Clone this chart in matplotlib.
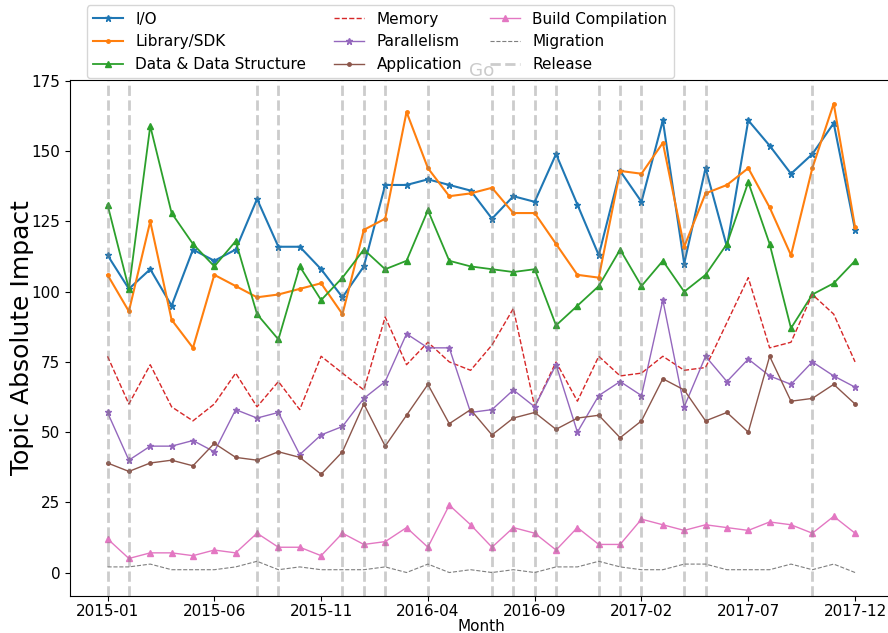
import matplotlib as mpl
import matplotlib.pyplot as plt
import pandas as pd

months = pd.period_range('2015-01', '2017-12', freq='M').strftime('%Y-%m').tolist()

io = [113, 101, 108, 95, 115, 111, 115, 133, 116, 116, 108, 98, 109, 138, 138, 140, 138, 136,
      126, 134, 132, 149, 131, 113, 143, 132, 161, 110, 144, 116, 161, 152, 142, 149, 160, 122]
library = [106, 93, 125, 90, 80, 106, 102, 98, 99, 101, 103, 92, 122, 126, 164, 144, 134, 135,
           137, 128, 128, 117, 106, 105, 143, 142, 153, 116, 135, 138, 144, 130, 113, 144, 167, 123]
data_struct = [131, 101, 159, 128, 117, 109, 118, 92, 83, 109, 97, 105, 115, 108, 111, 129, 111, 109,
               108, 107, 108, 88, 95, 102, 115, 102, 111, 100, 106, 117, 139, 117, 87, 99, 103, 111]
memory = [77, 60, 74, 59, 54, 60, 71, 59, 68, 58, 77, 71, 65, 91, 74, 82, 75, 72,
          81, 94, 59, 75, 61, 77, 70, 71, 77, 72, 73, 89, 105, 80, 82, 99, 92, 75]
parallelism = [57, 40, 45, 45, 47, 43, 58, 55, 57, 42, 49, 52, 62, 68, 85, 80, 80, 57,
               58, 65, 59, 74, 50, 63, 68, 63, 97, 59, 77, 68, 76, 70, 67, 75, 70, 66]
application = [39, 36, 39, 40, 38, 46, 41, 40, 43, 41, 35, 43, 60, 45, 56, 67, 53, 58,
               49, 55, 57, 51, 55, 56, 48, 54, 69, 65, 54, 57, 50, 77, 61, 62, 67, 60]
build = [12, 5, 7, 7, 6, 8, 7, 14, 9, 9, 6, 14, 10, 11, 16, 9, 24, 17,
         9, 16, 14, 8, 16, 10, 10, 19, 17, 15, 17, 16, 15, 18, 17, 14, 20, 14]
migration = [2, 2, 3, 1, 1, 1, 2, 4, 1, 2, 1, 1, 1, 2, 0, 3, 0, 1,
             0, 1, 0, 2, 2, 4, 2, 1, 1, 3, 3, 1, 1, 1, 3, 1, 3, 0]

releases = ['2015-01', '2015-02', '2015-08', '2015-09', '2015-12', '2016-01', '2016-02',
            '2016-04', '2016-07', '2016-08', '2016-09', '2016-10', '2016-12', '2017-01',
            '2017-02', '2017-04', '2017-05', '2017-10']

dpi = 100
fig = plt.figure(dpi=dpi, figsize=(888 / dpi, 633 / dpi))
mpl.rcParams.update({'font.size': 11})
ax = fig.add_axes([0.079, 0.0585, 0.926, 0.815])

xs = range(len(months))
ax.plot(xs, io, marker='*', markersize=5, linewidth=1.5, label='I/O')
ax.plot(xs, library, marker='.', markersize=5, linewidth=1.5, label='Library/SDK')
ax.plot(xs, data_struct, marker='^', markersize=5, linewidth=1.3, label='Data & Data Structure')
ax.plot(xs, memory, linestyle='--', linewidth=1.0, label='Memory')
ax.plot(xs, parallelism, marker='*', markersize=5, linewidth=1.0, label='Parallelism')
ax.plot(xs, application, marker='.', markersize=5, linewidth=1.0, label='Application')
ax.plot(xs, build, marker='^', markersize=5, linewidth=1.0, label='Build Compilation')
ax.plot(xs, migration, linestyle='--', linewidth=0.8, label='Migration')

for i, r in enumerate(releases):
    ax.axvline(months.index(r), color='gray', alpha=0.4, linestyle='--', linewidth=2,
               label='Release' if i == 0 else None)

ax.set_xticks(list(xs)[::5])
ax.set_xticklabels(months[::5])
ax.tick_params(axis='x', pad=2)
ax.set_xlim(-1.75, 36.75)
ax.set_ylim(-8.35, 175.35)
ax.set_xlabel('Month', labelpad=0)
ax.set_ylabel('Topic Absolute Impact', fontsize=18, labelpad=-2)
ax.set_title('Go', pad=2)

fig.legend(ncol=3, loc='lower center', bbox_to_anchor=(0.428, 0.872), fontsize=11,
           columnspacing=1.8, handlelength=2.0, borderaxespad=0.2)
fig.savefig('out.png')
